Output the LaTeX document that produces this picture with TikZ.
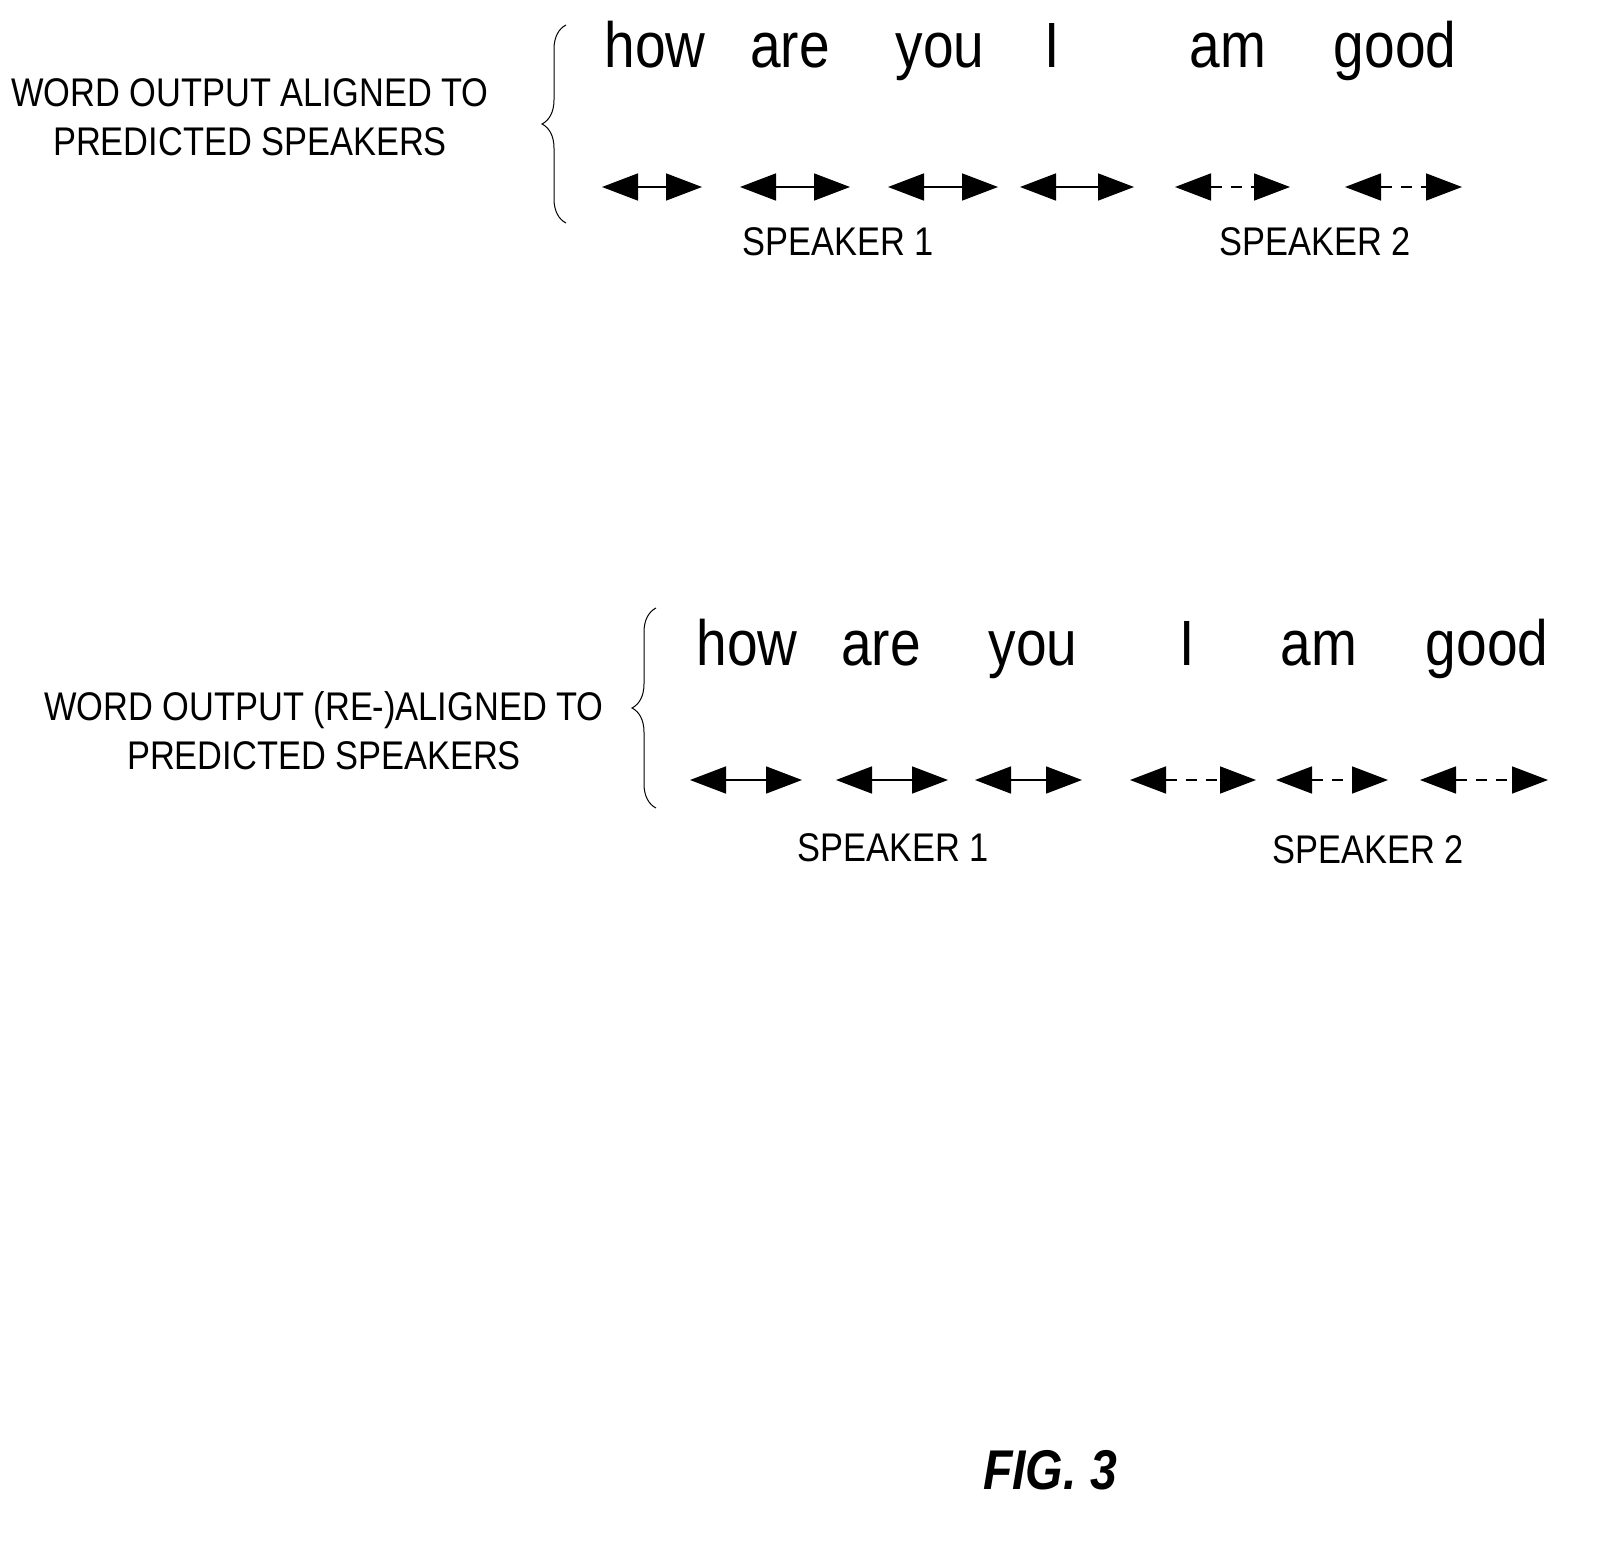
\documentclass[tikz,border=0pt]{standalone}
\usepackage{fontspec}
\setmainfont{Liberation Sans}[FakeStretch=0.86]
\usetikzlibrary{arrows.meta,decorations.pathreplacing}
\begin{document}
\begin{tikzpicture}[x=1pt,y=-1pt,
  word/.style={font=\fontsize{64}{64}\selectfont,anchor=base,inner sep=0pt},
  lbl/.style={font=\fontsize{40}{49}\selectfont,align=center,inner sep=0pt},
  spk/.style={font=\fontsize{40}{40}\selectfont,inner sep=0pt},
  span/.style={line width=1.6pt,{Triangle[length=36pt,width=27pt]}-{Triangle[length=36pt,width=27pt]}},
  dspan/.style={span,dash pattern=on 11pt off 9pt},
  brc/.style={line width=1pt,decorate,decoration={brace,amplitude=24pt}}]
  \useasboundingbox (0,0) rectangle (1606,1549);

    % --------------------------------------------------------- %
    % ------------- first alignment
    % --------------------------------------------------------- %
    \node[lbl] (lblA) at (250,117) {WORD OUTPUT ALIGNED TO\\PREDICTED SPEAKERS};
    \draw[brc] (566,223) -- (566,25);
    \foreach \w/\x [count=\i] in {how/655,are/790,you/940,I/1052,am/1228,good/1395}
      \node[word] (wA\i) at (\x,68) {\w};
    \foreach \a/\b [count=\i] in {602/702,740/850,888/998,1020/1134,1175/1290,1345/1462}{
      \coordinate (sA\i) at (\a,187);
      \coordinate (eA\i) at (\b,187);
    }
    \foreach \i in {1,2,3,4} \draw[span] (sA\i) -- (eA\i);
    \foreach \i in {5,6} \draw[dspan] (sA\i) -- (eA\i);
    \node[spk] (spkA1) at (838,242) {SPEAKER 1};
    \node[spk] (spkA2) at (1315,242) {SPEAKER 2};

    % --------------------------------------------------------- %
    % ------------- re-alignment
    % --------------------------------------------------------- %
    \node[lbl] (lblB) at (324,731) {WORD OUTPUT (RE-)ALIGNED TO\\PREDICTED SPEAKERS};
    \draw[brc] (656,808) -- (656,608);
    \foreach \w/\x [count=\i] in {how/747,are/881,you/1033,I/1187,am/1319,good/1487}
      \node[word] (wB\i) at (\x,665) {\w};
    \foreach \a/\b [count=\i] in {690/802,836/948,975/1082,1130/1256,1276/1388,1420/1548}{
      \coordinate (sB\i) at (\a,780);
      \coordinate (eB\i) at (\b,780);
    }
    \foreach \i in {1,2,3} \draw[span] (sB\i) -- (eB\i);
    \foreach \i in {4,5,6} \draw[dspan] (sB\i) -- (eB\i);
    \node[spk] (spkB1) at (893,848) {SPEAKER 1};
    \node[spk] (spkB2) at (1368,850) {SPEAKER 2};

    \node[font=\fontsize{56}{56}\selectfont\bfseries\itshape] (fig) at (1050,1470) {FIG. 3};

  \end{tikzpicture}
\end{document}
